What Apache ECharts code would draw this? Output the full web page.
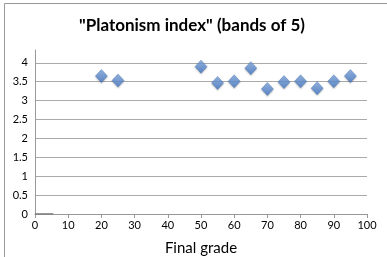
<!DOCTYPE html>
<html>
<head>
<meta charset="utf-8">
<script src="https://cdn.jsdelivr.net/npm/echarts@6/dist/echarts.min.js"></script>
<style>
  html, body { margin: 0; padding: 0; background: #fff; }
  #chart { width: 387px; height: 257px; }
</style>
</head>
<body>
<div id="chart"></div>
<script>
// final grade bands and platonism index per band
const grades = [20, 25, 50, 55, 60, 65, 70, 75, 80, 85, 90, 95];
const platonism = [3.65, 3.53, 3.9, 3.47, 3.51, 3.86, 3.31, 3.49, 3.51, 3.33, 3.51, 3.65];
// short dark segment sitting on the baseline near 0
const baseSeg = [[0, 0], [5.5, 0]];

const myChart = echarts.init(document.getElementById("chart"));
const option = {
  animation: false,
  title: {
    text: '"Platonism index" (bands of 5)',
    left: 187,
    top: 12,
    textAlign: "center",
    textStyle: {
      fontFamily: "Lato",
      fontWeight: "bold",
      fontSize: 17,
      color: "#000",
    },
  },
  graphic: [
    {
      // chart frame edges (left and top)
      type: "polyline",
      shape: { points: [[4.5, 257], [4.5, 3.5], [387, 3.5]] },
      style: { stroke: "#999", lineWidth: 1, fill: null },
    },
  ],
  grid: { left: 35, right: 20, top: 50, bottom: 43, outerBoundsMode: "none", containLabel: false },
  xAxis: {
    type: "value",
    min: 0,
    max: 100,
    interval: 10,
    name: "Final grade",
    nameLocation: "middle",
    nameGap: 27,
    nameTextStyle: { fontFamily: "Lato", fontSize: 15, color: "#000" },
    axisLine: { show: true, lineStyle: { color: "#999" } },
    axisTick: { show: true, length: 4, lineStyle: { color: "#999" } },
    axisLabel: { fontFamily: "Lato", fontSize: 11, color: "#000", margin: 6 },
    splitLine: { show: false },
  },
  yAxis: {
    type: "value",
    min: 0,
    max: 4.34,
    interval: 0.5,
    axisLine: { show: true, lineStyle: { color: "#999" } },
    axisTick: { show: false },
    axisLabel: {
      fontFamily: "Lato",
      fontSize: 11,
      color: "#000",
      margin: 7,
      showMaxLabel: false,
    },
    splitLine: {
      show: true,
      showMaxLine: false,
      lineStyle: { color: "#aaa", width: 1 },
    },
  },
  series: [
    {
      type: "line",
      data: baseSeg,
      symbol: "none",
      lineStyle: { color: "#777", width: 1.5 },
      z: 1,
    },
    {
      type: "scatter",
      data: grades.map((g, i) => [g, platonism[i]]),
      symbol: "diamond",
      symbolSize: [12, 13],
      itemStyle: {
        color: new echarts.graphic.LinearGradient(0, 0, 0, 1, [
          { offset: 0, color: "#86aee6" },
          { offset: 1, color: "#3f74c2" },
        ]),
        borderColor: "#3d6fb5",
        borderWidth: 0.5,
        shadowColor: "rgba(0,0,0,0.3)",
        shadowBlur: 2,
        shadowOffsetY: 1,
      },
      z: 3,
    },
  ],
};
myChart.setOption(option);
</script>
</body>
</html>
